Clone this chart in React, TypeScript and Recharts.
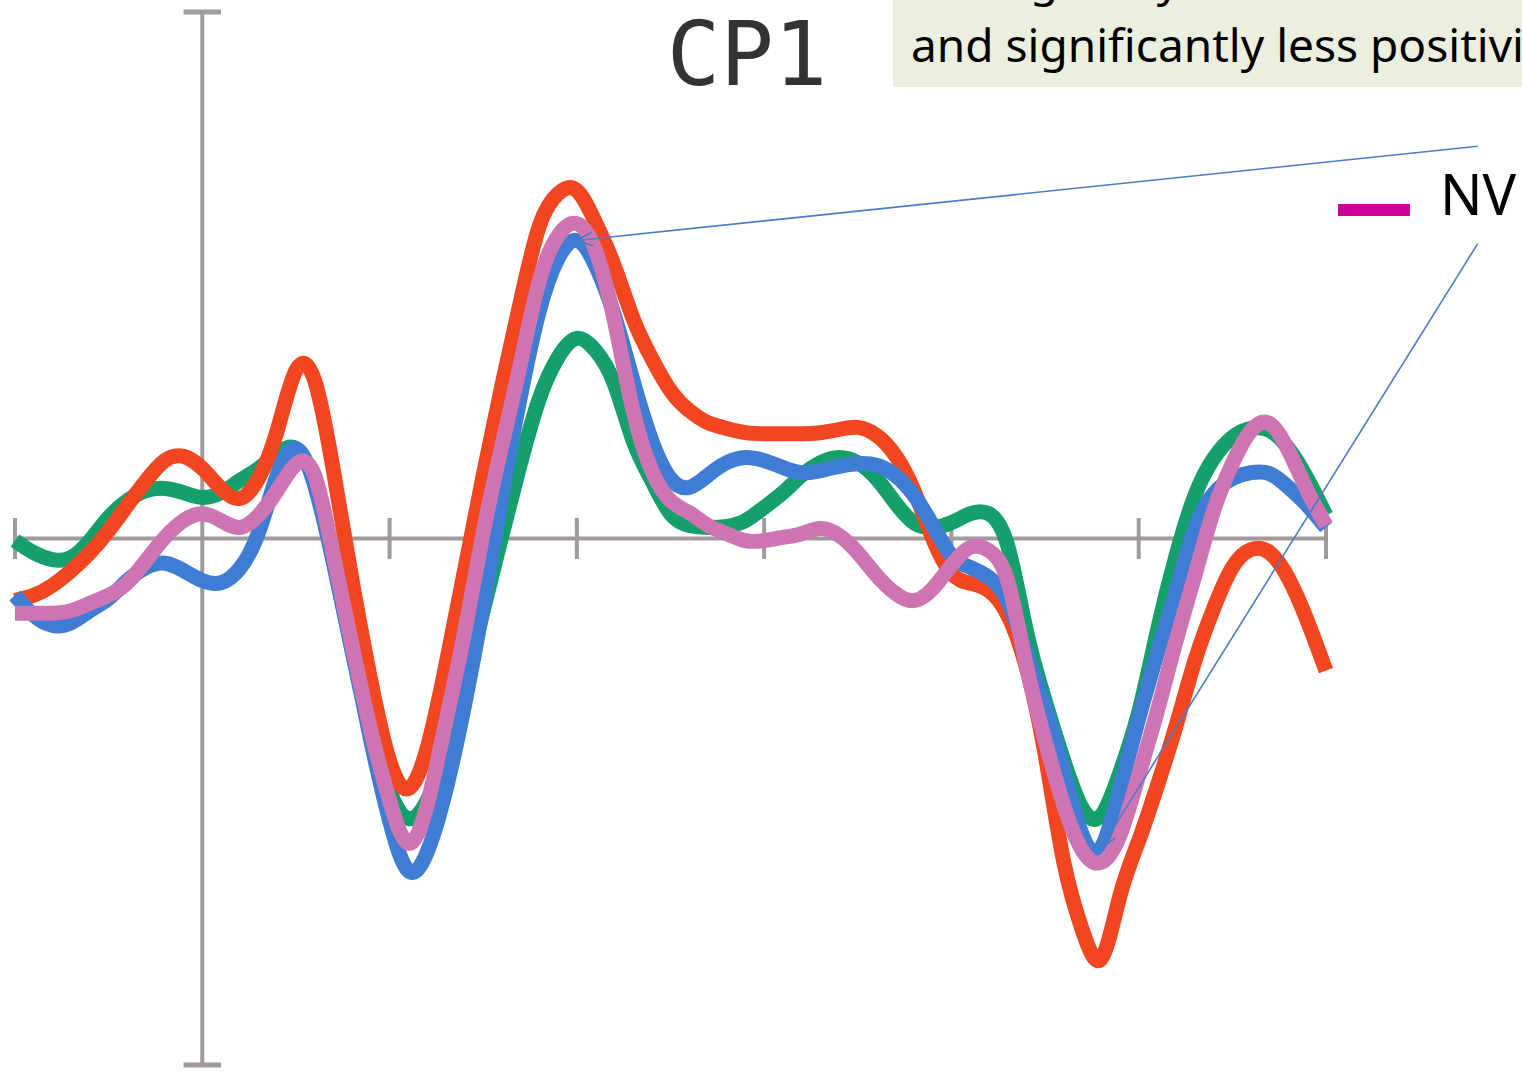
import React from "react";
import { LineChart, Line, XAxis, YAxis, ReferenceLine } from "recharts";

// time in ms relative to stimulus onset, amplitudes in µV
const TIME = [
  -100, -90, -80, -70, -60, -50, -40, -30, -20, -10,
  0, 10, 20, 30, 40, 50, 60, 70, 80, 90,
  100, 110, 120, 130, 140, 150, 160, 170, 180, 190,
  200, 210, 220, 230, 240, 250, 260, 270, 280, 290,
  300, 310, 320, 330, 340, 350, 360, 370, 380, 390,
  400, 410, 420, 430, 440, 450, 460, 470, 480, 490,
  500, 510, 520, 530, 540, 550, 560, 570, 580, 590,
  600,
];

const GREEN = [
  -0.04, -0.27, -0.4, -0.36, -0.04, 0.4, 0.72, 0.91, 0.95, 0.87,
  0.78, 0.87, 1.1, 1.33, 1.61, 1.71, 1.06, -0.42, -2.13, -3.65,
  -4.79, -5.32, -4.98, -4.03, -2.79, -1.37, 0.06, 1.44, 2.66, 3.44,
  3.8, 3.57, 2.94, 1.86, 1.1, 0.47, 0.25, 0.21, 0.23, 0.34,
  0.59, 0.87, 1.2, 1.44, 1.54, 1.44, 1.14, 0.68, 0.3, 0.21,
  0.3, 0.47, 0.47, -0.13, -1.75, -3.08, -4.22, -5.13, -5.26, -4.44,
  -3.3, -1.74, -0.32, 0.82, 1.52, 1.92, 2.09, 2.05, 1.71, 1.14,
  0.44,
];

const RED = [
  -1.18, -1.08, -0.89, -0.61, -0.27, 0.15, 0.63, 1.1, 1.48, 1.56,
  1.33, 0.95, 0.76, 1.14, 2.05, 3.19, 3.0, 1.29, -0.8, -2.7,
  -4.22, -4.75, -3.99, -2.41, -0.61, 1.2, 2.91, 4.52, 5.94, 6.55,
  6.61, 6.0, 5.18, 4.18, 3.42, 2.81, 2.43, 2.2, 2.09, 2.01,
  1.99, 1.99, 1.99, 2.01, 2.07, 2.11, 1.96, 1.58, 0.91, 0.0,
  -0.66, -0.85, -0.99, -1.45, -2.45, -4.1, -6.15, -7.45, -7.98, -6.78,
  -5.74, -4.69, -3.55, -2.32, -1.33, -0.55, -0.21, -0.27, -0.76, -1.56,
  -2.51,
];

const BLUE = [
  -1.08, -1.46, -1.65, -1.6, -1.37, -1.14, -0.8, -0.55, -0.47, -0.61,
  -0.8, -0.84, -0.57, 0.11, 1.2, 1.71, 1.01, -0.46, -2.13, -3.84,
  -5.36, -6.31, -5.96, -4.79, -3.17, -1.27, 0.82, 2.72, 4.33, 5.32,
  5.66, 5.18, 4.24, 3.0, 1.86, 1.14, 0.97, 1.2, 1.44, 1.54,
  1.48, 1.35, 1.25, 1.29, 1.37, 1.42, 1.39, 1.2, 0.82, 0.25,
  -0.32, -0.55, -0.74, -1.18, -2.17, -3.21, -4.41, -5.64, -5.87, -4.75,
  -3.42, -2.17, -0.99, 0.19, 0.85, 1.14, 1.25, 1.23, 0.97, 0.63,
  0.21,
];

const PINK = [
  -1.42, -1.42, -1.42, -1.37, -1.23, -1.08, -0.84, -0.42, 0.02, 0.34,
  0.47, 0.34, 0.21, 0.44, 0.91, 1.41, 1.2, -0.32, -2.03, -3.65,
  -4.98, -5.79, -5.07, -3.49, -1.79, 0.11, 1.77, 3.34, 4.9, 5.75,
  5.98, 5.47, 4.14, 2.43, 1.29, 0.72, 0.49, 0.25, 0.09, -0.04,
  -0.04, 0.02, 0.09, 0.19, 0.06, -0.27, -0.7, -1.04, -1.18, -0.95,
  -0.51, -0.17, -0.23, -0.8, -2.41, -3.84, -5.07, -5.93, -6.15, -5.64,
  -4.5, -3.27, -1.94, -0.7, 0.53, 1.42, 2.05, 2.18, 1.67, 0.91,
  0.25,
];

const TICK_TIMES = [-100, 100, 200, 300, 400, 500, 600];
const Y_LIMIT = 10;

// callout anchors sit to the right of the plotted window
const CALLOUT_FROM = [
  { x: 681, y: 7.45 },
  { x: 681, y: 5.6 },
];
const P300_IDX = 30;
const N400_IDX = 58;

const AXIS_COLOR = "#a19a9d";
const CALLOUT_COLOR = "#4a7bc8";
const LINE_WIDTH = 15;

const data = TIME.map((t, i) => ({
  t,
  green: GREEN[i],
  red: RED[i],
  blue: BLUE[i],
  pink: PINK[i],
}));

const ArrowLine = (props: any) => {
  const { x1, y1, x2, y2 } = props;
  const a = Math.atan2(y2 - y1, x2 - x1);
  const len = 17;
  const spread = 0.42;
  const ax = x2 - len * Math.cos(a - spread);
  const ay = y2 - len * Math.sin(a - spread);
  const bx = x2 - len * Math.cos(a + spread);
  const by = y2 - len * Math.sin(a + spread);
  return (
    <g>
      <line x1={x1} y1={y1} x2={x2} y2={y2} stroke={CALLOUT_COLOR} strokeWidth={1.6} />
      <polyline
        points={`${ax},${ay} ${x2},${y2} ${bx},${by}`}
        fill="none"
        stroke={CALLOUT_COLOR}
        strokeWidth={1.6}
      />
    </g>
  );
};

export default function App() {
  return (
    <div
      style={{
        position: "absolute",
        left: 0,
        top: 0,
        width: 1522,
        height: 1074,
        background: "#fff",
        overflow: "hidden",
      }}
    >
      <LineChart
        width={1522}
        height={1074}
        data={data}
        margin={{ top: 12, right: 196, bottom: 9, left: 15 }}
      >
        <XAxis type="number" dataKey="t" domain={[-100, 600]} hide />
        <YAxis type="number" domain={[-Y_LIMIT, Y_LIMIT]} hide />

        {/* axes crossing at t = 0, 0 µV */}
        <ReferenceLine y={0} stroke={AXIS_COLOR} strokeWidth={4} />
        <ReferenceLine x={0} stroke={AXIS_COLOR} strokeWidth={4} />
        <ReferenceLine
          segment={[{ x: -10, y: Y_LIMIT }, { x: 10, y: Y_LIMIT }]}
          stroke={AXIS_COLOR}
          strokeWidth={5}
          ifOverflow="visible"
        />
        <ReferenceLine
          segment={[{ x: -10, y: -Y_LIMIT }, { x: 10, y: -Y_LIMIT }]}
          stroke={AXIS_COLOR}
          strokeWidth={5}
          ifOverflow="visible"
        />
        {TICK_TIMES.map((t) => (
          <ReferenceLine
            key={t}
            segment={[{ x: t, y: -0.39 }, { x: t, y: 0.39 }]}
            stroke={AXIS_COLOR}
            strokeWidth={4}
            ifOverflow="visible"
          />
        ))}

        <Line type="natural" dataKey="green" stroke="#15a06b" strokeWidth={LINE_WIDTH} dot={false} isAnimationActive={false} />
        <Line type="natural" dataKey="red" stroke="#f1461f" strokeWidth={LINE_WIDTH} dot={false} isAnimationActive={false} />
        <Line type="natural" dataKey="blue" stroke="#3f7dd5" strokeWidth={LINE_WIDTH} dot={false} isAnimationActive={false} />
        <Line type="natural" dataKey="pink" stroke="#cf74b3" strokeWidth={LINE_WIDTH} dot={false} isAnimationActive={false} />

        <ReferenceLine
          segment={[CALLOUT_FROM[0], { x: TIME[P300_IDX], y: BLUE[P300_IDX] }]}
          ifOverflow="visible"
          shape={ArrowLine}
        />
        <ReferenceLine
          segment={[CALLOUT_FROM[1], { x: TIME[N400_IDX], y: BLUE[N400_IDX] }]}
          ifOverflow="visible"
          shape={ArrowLine}
        />
      </LineChart>

      <svg
        width={1522}
        height={1074}
        style={{ position: "absolute", left: 0, top: 0, pointerEvents: "none" }}
      >
        <text
          x={747}
          y={85}
          textAnchor="middle"
          fontFamily="DejaVu Sans Mono"
          fontSize={89}
          fill="#333333"
        >
          CP1
        </text>

        <rect x={893} y={0} width={629} height={87} fill="#ebefdf" />
        <text x={911} y={-4} fontFamily="Noto Sans" fontSize={46} fill="#000">
          N1 is greatly enhanced
        </text>
        <text
          x={911}
          y={62}
          fontFamily="Noto Sans"
          fontSize={46}
          fill="#000"
          textLength={653}
          lengthAdjust="spacingAndGlyphs"
        >
          and significantly less positivity
        </text>

        <rect x={1338} y={204} width={72} height={12} fill="#cc0099" />
        <text x={1440} y={215} fontFamily="Noto Sans" fontSize={56} fill="#000">
          NV
        </text>
      </svg>
    </div>
  );
}
